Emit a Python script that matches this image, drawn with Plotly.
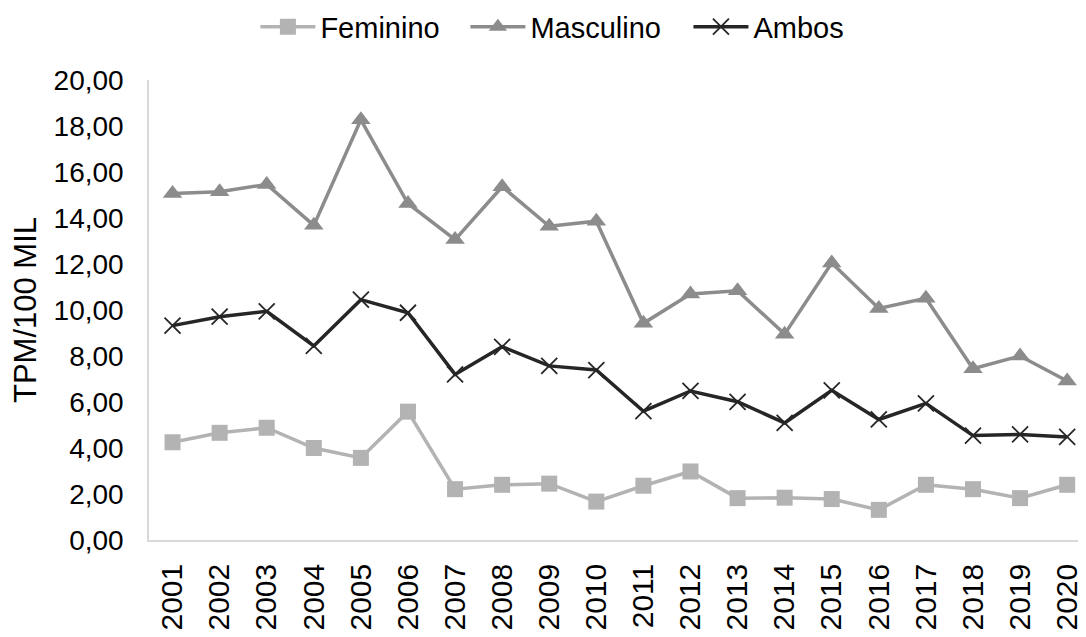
import plotly.graph_objects as go

anos = [str(a) for a in range(2001, 2021)]
feminino = [4.25, 4.66, 4.88, 4.00, 3.57, 5.58, 2.21, 2.40, 2.45, 1.67,
            2.36, 2.98, 1.82, 1.84, 1.78, 1.31, 2.40, 2.21, 1.82, 2.40]
masculino = [15.07, 15.14, 15.46, 13.68, 18.27, 14.63, 13.06, 15.36, 13.64, 13.86,
             9.42, 10.70, 10.84, 8.95, 12.04, 10.07, 10.51, 7.45, 8.00, 6.91]
ambos = [9.32, 9.71, 9.94, 8.44, 10.45, 9.88, 7.20, 8.40, 7.57, 7.39,
         5.60, 6.48, 6.01, 5.09, 6.51, 5.24, 5.94, 4.54, 4.59, 4.48]

fig = go.Figure()
fig.add_trace(go.Scatter(x=anos, y=feminino, name="Feminino", mode="lines+markers",
                         line=dict(color="#b3b3b3", width=3.5), legend="legend",
                         marker=dict(symbol="square", size=16, color="#b3b3b3")))
fig.add_trace(go.Scatter(x=anos, y=masculino, name="Masculino", mode="lines+markers",
                         line=dict(color="#8c8c8c", width=3.5), legend="legend2",
                         marker=dict(symbol="triangle-up", size=17, color="#8c8c8c")))
fig.add_trace(go.Scatter(x=anos, y=ambos, name="Ambos", mode="lines+markers",
                         line=dict(color="#262626", width=3.5), legend="legend3",
                         marker=dict(symbol="x-thin", size=16, color="#262626",
                                     line=dict(color="#262626", width=1.8))))

leg = dict(orientation="h", xref="container", yref="container", xanchor="left",
           y=0.970, yanchor="middle", font=dict(size=29), itemwidth=55,
           bgcolor="rgba(0,0,0,0)")

fig.update_layout(
    width=1078, height=629,
    margin=dict(l=141, r=0, t=72, b=97),
    paper_bgcolor="white", plot_bgcolor="white",
    separators=",.",
    font=dict(family="Liberation Sans, Arial, sans-serif", size=28, color="#000000"),
    showlegend=True,
    legend=dict(leg, x=0.2295),
    legend2=dict(leg, x=0.4243),
    legend3=dict(leg, x=0.6312),
    xaxis=dict(type="category", range=[-0.5, 19.4], showgrid=False,
               showline=True, linecolor="#d9d9d9", linewidth=1.5,
               ticks="", tickangle=-90, tickfont=dict(size=30),
               ticklabelstandoff=10, automargin=False),
    yaxis=dict(range=[0, 20], dtick=2, tickformat=".2f", showgrid=False,
               showline=True, linecolor="#d9d9d9", linewidth=1.5,
               ticks="", tickfont=dict(size=28), ticklabelstandoff=18,
               title=dict(text="TPM/100 MIL", font=dict(size=31), standoff=10),
               zeroline=False, automargin=False),
)

fig.write_html("out.html")
